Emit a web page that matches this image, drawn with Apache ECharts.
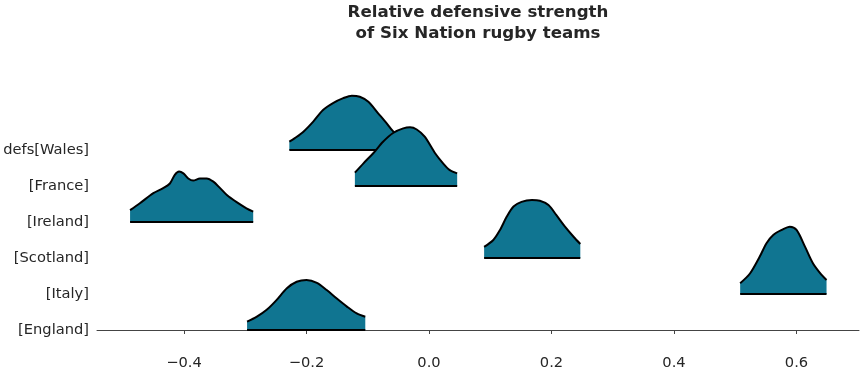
<!DOCTYPE html>
<html>
<head>
<meta charset="utf-8">
<script src="https://cdn.jsdelivr.net/npm/echarts@6/dist/echarts.min.js"></script>
<style>
  html, body { margin: 0; padding: 0; background: #fff; }
  #chart { width: 862px; height: 375px; }
</style>
</head>
<body>
<div id="chart"></div>
<script>
// rows, top to bottom
const teams = ["defs[Wales]", "[France]", "[Ireland]", "[Scotland]", "[Italy]", "[England]"];
const xTicks = [-0.4, -0.2, 0, 0.2, 0.4, 0.6];

// density curves: x positions and ridge heights (row spacing = 1)
const walesX = [-0.228, -0.219, -0.205, -0.189, -0.173, -0.156, -0.140, -0.126, -0.113, -0.099, -0.083, -0.069, -0.058, -0.042, -0.028];
const walesH = [0.23, 0.33, 0.51, 0.79, 1.11, 1.31, 1.44, 1.51, 1.48, 1.34, 1.02, 0.74, 0.51, 0.30, 0.17];
const franceX = [-0.121, -0.107, -0.091, -0.075, -0.058, -0.042, -0.031, -0.020, -0.007, 0.010, 0.023, 0.034, 0.046];
const franceH = [0.37, 0.63, 0.91, 1.23, 1.48, 1.60, 1.63, 1.57, 1.37, 0.91, 0.63, 0.44, 0.35];
const irelandX = [-0.488, -0.472, -0.450, -0.434, -0.423, -0.415, -0.408, -0.401, -0.393, -0.385, -0.374, -0.363, -0.352, -0.341, -0.330, -0.314, -0.298, -0.287];
const irelandH = [0.33, 0.52, 0.80, 0.94, 1.07, 1.31, 1.40, 1.35, 1.21, 1.15, 1.21, 1.21, 1.12, 0.94, 0.75, 0.55, 0.38, 0.29];
const scotlandX = [0.090, 0.105, 0.116, 0.127, 0.138, 0.151, 0.168, 0.181, 0.195, 0.208, 0.222, 0.236, 0.247];
const scotlandH = [0.31, 0.50, 0.78, 1.15, 1.43, 1.56, 1.61, 1.59, 1.47, 1.19, 0.87, 0.59, 0.39];
const italyX = [0.508, 0.524, 0.540, 0.551, 0.562, 0.576, 0.589, 0.600, 0.614, 0.627, 0.641, 0.649];
const italyH = [0.30, 0.57, 1.04, 1.41, 1.64, 1.78, 1.87, 1.78, 1.31, 0.85, 0.53, 0.39];
const englandX = [-0.297, -0.281, -0.265, -0.249, -0.232, -0.216, -0.200, -0.183, -0.167, -0.151, -0.134, -0.118, -0.104];
const englandH = [0.23, 0.37, 0.56, 0.83, 1.16, 1.34, 1.39, 1.31, 1.11, 0.88, 0.65, 0.46, 0.37];

const ridgeX = [walesX, franceX, irelandX, scotlandX, italyX, englandX];
const ridgeH = [walesH, franceH, irelandH, scotlandH, italyH, englandH];

const FILL = "#107591";
const FONT = "DejaVu Sans";
const TEXT = "#262626";

const series = [];
teams.forEach((name, i) => {
    const base = teams.length - 1 - i;
    const xs = ridgeX[i];
    const hs = ridgeH[i];
    // each ridge gets its own z so later rows cover earlier ones
    series.push({
        name: name,
        type: "line",
        z: 2 + i * 2,
        smooth: 0.3,
        symbol: "none",
        silent: true,
        data: xs.map((x, k) => [x, base + hs[k]]),
        lineStyle: { color: "#000", width: 2 },
        areaStyle: { color: FILL, opacity: 1, origin: base }
    });
    series.push({
        type: "line",
        z: 3 + i * 2,
        symbol: "none",
        silent: true,
        data: [[xs[0], base], [xs[xs.length - 1], base]],
        lineStyle: { color: "#000", width: 2 }
    });
});

const fmt = v => {
    const s = Math.abs(v) < 1e-9 ? "0.0" : v.toFixed(1);
    return s.replace("-", "\u2212");
};

const chart = echarts.init(document.getElementById("chart"), null, { renderer: "canvas" });
chart.setOption({
    animation: false,
    title: {
        text: "Relative defensive strength\nof Six Nation rugby teams",
        left: 478,
        top: 2,
        padding: 0,
        textAlign: "center",
        textStyle: {
            fontFamily: FONT,
            fontSize: 16.67,
            fontWeight: "bold",
            color: TEXT,
            lineHeight: 21
        }
    },
    grid: { left: 97, right: 3, top: 50, bottom: 25, containLabel: false },
    xAxis: {
        type: "value",
        min: -0.542,
        max: 0.702,
        splitLine: { show: false },
        axisLine: { show: true, lineStyle: { color: "#444", width: 1 } },
        axisTick: { show: true, length: 4, lineStyle: { color: "#444" }, customValues: xTicks },
        axisLabel: {
            customValues: xTicks,
            formatter: fmt,
            margin: 6,
            fontFamily: FONT,
            fontSize: 14.67,
            color: TEXT
        }
    },
    yAxis: {
        type: "value",
        min: -20 / 36,
        max: 280 / 36,
        splitLine: { show: false },
        axisLine: { show: false },
        axisTick: { show: false },
        axisLabel: {
            customValues: [0, 1, 2, 3, 4, 5],
            formatter: v => teams[teams.length - 1 - Math.round(v)],
            margin: 8,
            fontFamily: FONT,
            fontSize: 14.67,
            color: TEXT
        }
    },
    series: series
});
</script>
</body>
</html>
